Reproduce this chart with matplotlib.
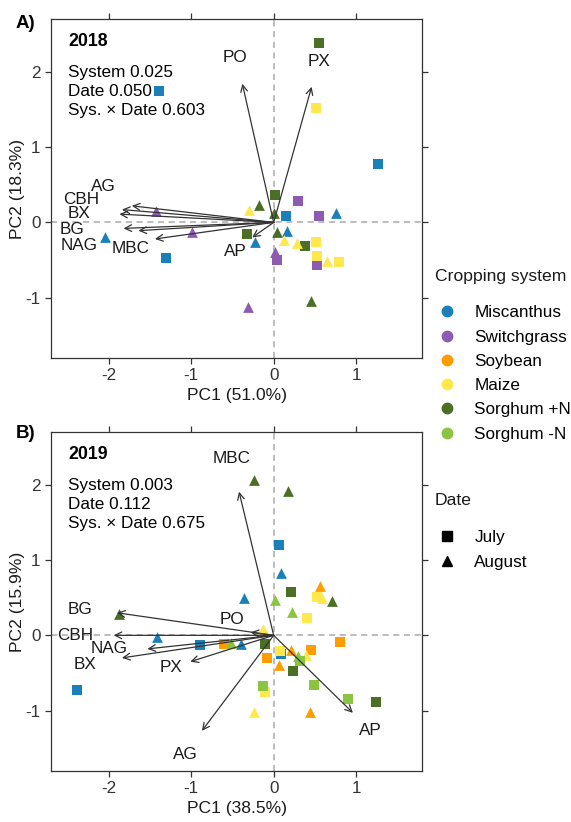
import numpy as np
import matplotlib
matplotlib.use('Agg')
from matplotlib import pyplot as plt
from matplotlib.lines import Line2D

plt.rcParams['font.family'] = ['Liberation Sans', 'DejaVu Sans']
plt.rcParams['font.size'] = 12.3
plt.rcParams['axes.unicode_minus'] = False

systems = ['Miscanthus', 'Switchgrass', 'Soybean', 'Maize', 'Sorghum +N', 'Sorghum -N']
sys_colors = ['#1b80b9', '#8e5bb3', '#ff9c00', '#ffe84c', '#4b6f24', '#8bc440']
dates = ['July', 'August']
date_markers = ['s', '^']

# 2018 scores: system index, date index, PC1, PC2
sys18 = [0]*8 + [1]*8 + [4]*8 + [3]*8
date18 = [0, 0, 0, 0, 1, 1, 1, 1,
          1, 1, 1, 1, 0, 0, 0, 0,
          0, 0, 0, 0, 1, 1, 1, 1,
          0, 0, 0, 0, 1, 1, 1, 1]
pc1_18 = [-1.39, 1.26, -1.30, 0.15, -2.05, 0.76, 0.16, -0.23,
          -1.43, -0.99, -0.31, 0.02, 0.30, 0.55, 0.04, 0.53,
          0.55, 0.01, -0.32, 0.38, -0.18, 0.00, 0.04, 0.45,
          0.51, 0.51, 0.53, 0.79, -0.30, 0.13, 0.28, 0.65]
pc2_18 = [1.75, 0.78, -0.47, 0.09, -0.20, 0.13, -0.11, -0.26,
          0.15, -0.13, -1.12, -0.39, 0.28, 0.08, -0.50, -0.57,
          2.38, 0.37, -0.15, -0.31, 0.23, 0.12, -0.13, -1.05,
          1.52, -0.26, -0.45, -0.52, 0.16, -0.24, -0.28, -0.51]

# 2019 scores
sys19 = [0]*8 + [4]*8 + [2]*8 + [3]*8 + [5]*8
date19 = [0, 0, 0, 0, 1, 1, 1, 1,
          1, 1, 1, 1, 0, 0, 0, 0,
          1, 1, 1, 1, 0, 0, 0, 0,
          1, 1, 1, 1, 0, 0, 0, 0,
          1, 1, 1, 1, 0, 0, 0, 0]
pc1_19 = [0.06, -0.89, 0.09, -2.38, 0.09, -0.36, -1.41, -0.40,
          -0.24, 0.17, -1.87, 0.71, 0.21, -0.11, 0.23, 1.24,
          0.56, 0.06, 0.44, 0.21, 0.80, 0.45, -0.08, -0.60,
          -0.13, -0.24, 0.39, 0.59, 0.41, -0.11, 0.53, 0.08,
          0.02, 0.22, -0.52, 0.29, -0.13, 0.49, 0.90, 0.32]
pc2_19 = [1.20, -0.13, -0.25, -0.73, 0.83, 0.50, -0.02, -0.12,
          2.07, 1.92, 0.28, 0.45, 0.58, -0.12, -0.48, -0.89,
          0.66, -0.39, -1.02, -0.20, -0.09, -0.19, -0.30, -0.12,
          0.09, -1.02, -0.26, 0.50, 0.23, -0.75, 0.51, -0.21,
          0.47, 0.31, -0.10, -0.27, -0.67, -0.66, -0.84, -0.34]

# loadings (arrow tips) and label positions
vars18 = ['PO', 'PX', 'AG', 'CBH', 'BX', 'BG', 'NAG', 'MBC', 'AP']
load1_18 = [-0.38, 0.46, -1.72, -1.84, -1.87, -1.82, -1.64, -1.44, -0.26]
load2_18 = [1.84, 1.80, 0.22, 0.17, 0.11, -0.08, -0.11, -0.22, -0.20]
lab1_18 = [-0.47, 0.55, -2.07, -2.33, -2.36, -2.45, -2.36, -1.74, -0.47]
lab2_18 = [2.19, 2.14, 0.47, 0.31, 0.12, -0.10, -0.31, -0.35, -0.38]

vars19 = ['MBC', 'BG', 'CBH', 'NAG', 'BX', 'PX', 'PO', 'AG', 'AP']
load1_19 = [-0.42, -1.90, -1.94, -1.53, -1.84, -1.01, -0.28, -0.87, 0.96]
load2_19 = [1.91, 0.30, 0.00, -0.18, -0.30, -0.35, 0.04, -1.27, -1.03]
lab1_19 = [-0.51, -2.35, -2.41, -2.00, -2.29, -1.25, -0.51, -1.07, 1.17]
lab2_19 = [2.35, 0.35, 0.00, -0.17, -0.39, -0.43, 0.21, -1.58, -1.27]

fig = plt.figure(figsize=(5.71, 8.22), dpi=100)
axA = fig.add_axes([0.0893, 0.5645, 0.650, 0.4124])
axB = fig.add_axes([0.0893, 0.0624, 0.650, 0.4117])


def panel(ax, sy, dt, x, y, vn, l1, l2, t1, t2, year, stats, xlab, ylab):
    ax.axhline(0, color='#aaaaaa', ls=(0, (4, 3)), lw=1.1, zorder=0)
    ax.axvline(0, color='#aaaaaa', ls=(0, (4, 3)), lw=1.1, zorder=0)
    for i in range(len(x)):
        ax.scatter(x[i], y[i], color=sys_colors[sy[i]], marker=date_markers[dt[i]],
                   s=44 if dt[i] == 0 else 60, linewidths=0, zorder=2)
    for i in range(len(vn)):
        ax.annotate('', xy=(l1[i], l2[i]), xytext=(0, 0),
                    arrowprops=dict(arrowstyle='->', color='#333333', lw=0.9,
                                    shrinkA=0, shrinkB=0, mutation_scale=12), zorder=3)
        ax.text(t1[i], t2[i], vn[i], ha='center', va='center', fontsize=12.3, color='#1a1a1a')
    ax.text(0.046, 0.933, year, transform=ax.transAxes, fontsize=12.8, fontweight='bold', va='center')
    for k, s in enumerate(stats):
        ax.text(0.046, 0.843 - 0.056*k, s, transform=ax.transAxes, fontsize=12.3, va='center')
    ax.set_xlim(-2.7, 1.8)
    ax.set_ylim(-1.8, 2.7)
    ax.set_xticks([-2, -1, 0, 1])
    ax.set_yticks([-1, 0, 1, 2])
    ax.tick_params(direction='out', length=4, width=0.9, color='#333333', labelsize=12.3,
                   top=True, right=True, labelcolor='#333333')
    for sp in ax.spines.values():
        sp.set_color('#333333')
        sp.set_linewidth(0.9)
    ax.set_xlabel(xlab, fontsize=12.6, color='#1a1a1a', labelpad=3.5)
    ax.set_ylabel(ylab, fontsize=12.6, color='#1a1a1a', labelpad=0)


panel(axA, sys18, date18, pc1_18, pc2_18, vars18, load1_18, load2_18, lab1_18, lab2_18,
      '2018', ['System 0.025', 'Date 0.050', 'Sys. × Date 0.603'], 'PC1 (51.0%)', 'PC2 (18.3%)')
panel(axB, sys19, date19, pc1_19, pc2_19, vars19, load1_19, load2_19, lab1_19, lab2_19,
      '2019', ['System 0.003', 'Date 0.112', 'Sys. × Date 0.675'], 'PC1 (38.5%)', 'PC2 (15.9%)')

fig.text(0.028, 0.972, 'A)', fontsize=13.5, fontweight='bold', va='center')
fig.text(0.028, 0.473, 'B)', fontsize=13.5, fontweight='bold', va='center')

# legends: titles as text, entries as legends
fig.text(0.7618, 0.6642, 'Cropping system', fontsize=12.6, va='center', color='#1a1a1a')
h1 = [Line2D([], [], ls='', marker='o', ms=7.5, color=c) for c in sys_colors]
fig.legend(h1, systems, loc='upper left', bbox_to_anchor=(0.7583, 0.6284), frameon=False,
           fontsize=12.3, labelspacing=0.54, handletextpad=0.82, handlelength=1.6,
           borderpad=0, borderaxespad=0)
fig.text(0.7618, 0.3917, 'Date', fontsize=12.6, va='center', color='#1a1a1a')
h2 = [Line2D([], [], ls='', marker=m, ms=7.5, color='black') for m in date_markers]
fig.legend(h2, dates, loc='upper left', bbox_to_anchor=(0.7583, 0.3547), frameon=False,
           fontsize=12.3, labelspacing=0.54, handletextpad=0.82, handlelength=1.6,
           borderpad=0, borderaxespad=0)

fig.savefig('out.png', dpi=100)
